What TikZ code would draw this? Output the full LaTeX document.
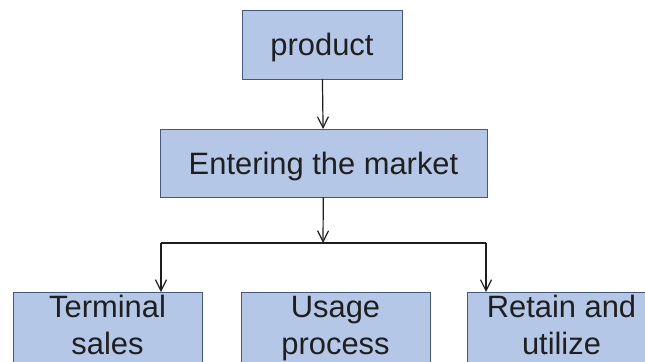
\documentclass[tikz,border=0pt]{standalone}
\usepackage{fontspec}
\setmainfont{Liberation Sans}
\usetikzlibrary{arrows.meta}

\definecolor{boxfill}{HTML}{B4C7E7}
\definecolor{boxline}{HTML}{44587F}
\definecolor{wire}{HTML}{1E1E1E}

\tikzset{
  box/.style={draw=boxline, fill=boxfill, line width=0.9bp, inner sep=0pt,
    outer sep=0pt, font=\fontsize{31}{37}\selectfont, text=black!88},
  topbox/.style={box, text height=22bp, text depth=0pt},
  leafbox/.style={box, align=center, minimum width=189bp, minimum height=74bp},
  arr/.style={draw=wire, line width=1.2bp,
    -{Straight Barb[length=11bp,width=11bp,line width=1.2bp]}},
  wireline/.style={draw=wire, line width=1.2bp}
}

\begin{document}
\begin{tikzpicture}[x=1bp, y=-1bp]
  \useasboundingbox (0,0) rectangle (645,361);
  \clip (0,0) rectangle (645,361);

  % top of the hierarchy
  \node[topbox, minimum width=160bp, minimum height=69bp] (product) at (322,44.5) {product};
  \node[topbox, minimum width=327bp, minimum height=68bp] (market) at (323.5,163) {Entering the market};

  % three outcomes
  \node[leafbox] (term)   at (107.5,329) {\strut Terminal\\\strut sales};
  \node[leafbox] (usage)  at (335.5,329) {\strut Usage\\\strut process};
  \node[leafbox] (retain) at (561.5,329) {\strut Retain and\\\strut utilize};

  % branch points
  \coordinate (split) at (323,243);
  \coordinate (lft) at (161,243);
  \coordinate (rgt) at (486,243);

  % connectors
  \draw[arr] (product) -- (market);
  \draw[arr] (market) -- (split);
  \draw[wireline] (lft) -- (rgt);
  \draw[arr] (lft) -- (lft |- term.north);
  \draw[arr] (rgt) -- (rgt |- retain.north);
\end{tikzpicture}
\end{document}
